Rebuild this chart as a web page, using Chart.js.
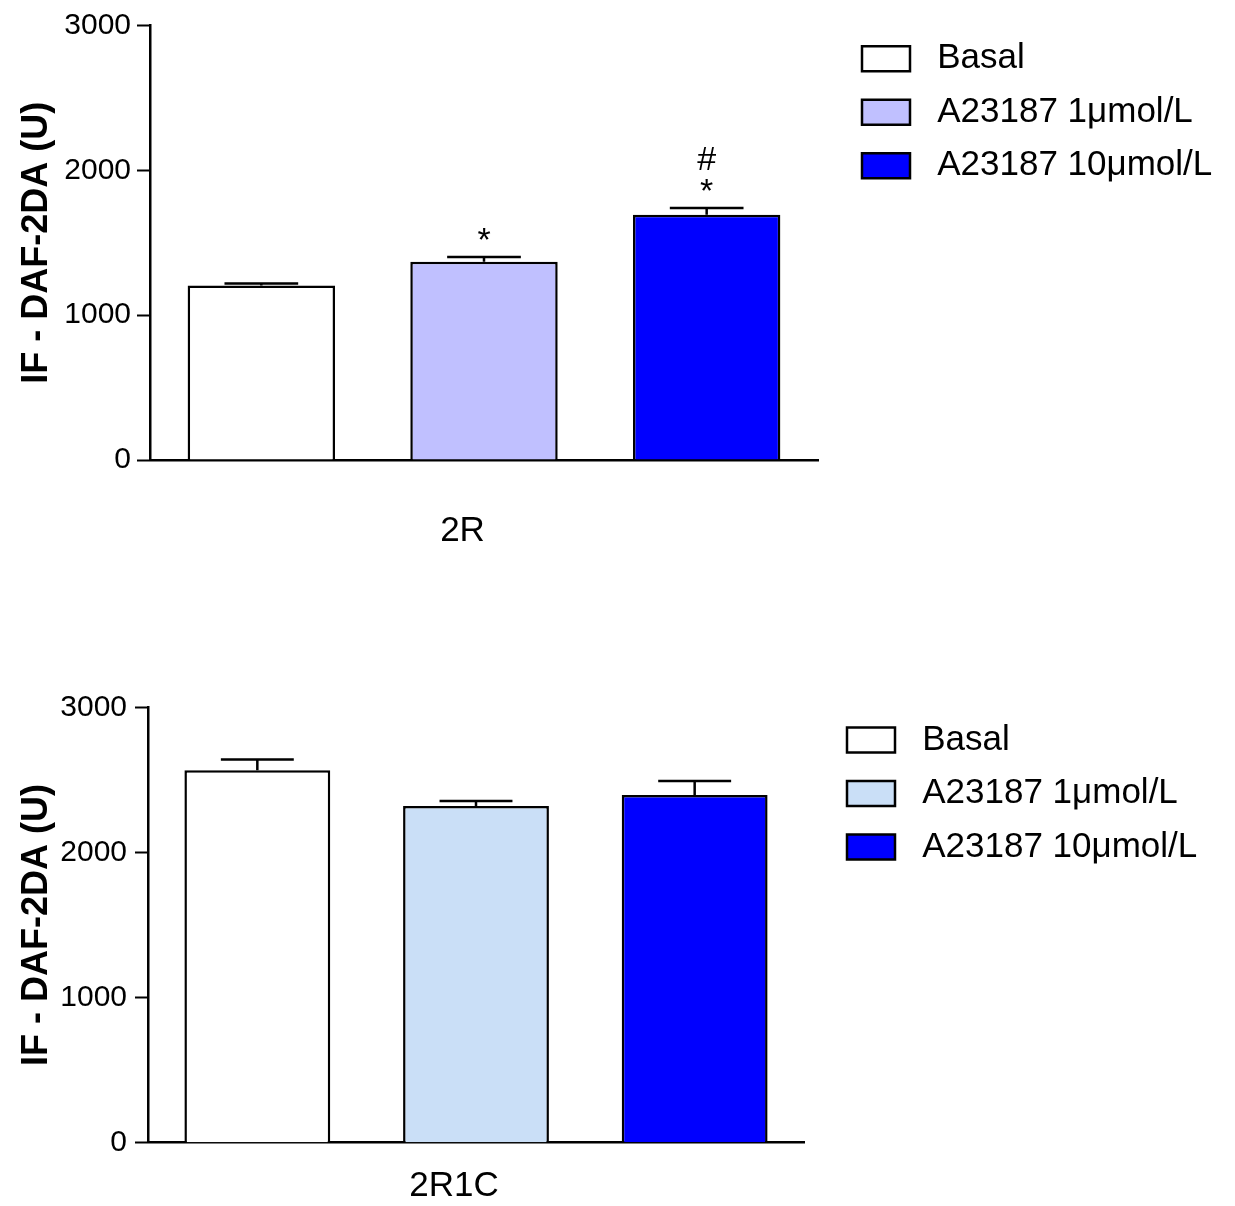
<!DOCTYPE html>
<html>
<head>
<meta charset="utf-8">
<script src="https://cdn.jsdelivr.net/npm/chart.js@4.4.1/dist/chart.umd.min.js"></script>
<style>
  body { margin: 0; background: #fff; }
  canvas { display: block; }
</style>
</head>
<body>
<canvas id="top" width="1235" height="603"></canvas>
<canvas id="bottom" width="1235" height="603"></canvas>
<script>
// groups (same in both panels)
const groups = ["Basal", "A23187 1μmol/L", "A23187 10μmol/L"];
const yTicks = [0, 1000, 2000, 3000];

// panel 2R
const topMean = [1206, 1370, 1694];
const topSem = [14, 32, 46];
const topMarks = [[], ["*"], ["*", "#"]];
const topColors = ["#ffffff", "#c0c0ff", "#0000ff"];

// panel 2R1C
const bottomMean = [2566, 2320, 2396];
const bottomSem = [74, 35, 97];
const bottomMarks = [[], [], []];
const bottomColors = ["#ffffff", "#cadff7", "#0000ff"];

Chart.defaults.color = "#000";

// error bars (mean + SEM) and significance marks above them
const errorBars = {
    id: "errorBars",
    afterDatasetsDraw(chart) {
        const ctx = chart.ctx;
        const y = chart.scales.y;
        const lift = { "*": 15, "#": 47 };
        ctx.save();
        chart.data.datasets.forEach((ds, i) => {
            const bar = chart.getDatasetMeta(i).data[0];
            const cap = y.getPixelForValue(ds.data[0] + ds.sem);
            const half = bar.width / 4;
            ctx.strokeStyle = "#000";
            ctx.lineWidth = 2.5;
            ctx.beginPath();
            ctx.moveTo(bar.x, bar.y);
            ctx.lineTo(bar.x, cap);
            ctx.moveTo(bar.x - half, cap);
            ctx.lineTo(bar.x + half, cap);
            ctx.stroke();
            ctx.fillStyle = "#000";
            ctx.font = "34px 'Liberation Sans'";
            ctx.textAlign = "center";
            ctx.textBaseline = "middle";
            ds.marks.forEach(m => ctx.fillText(m, bar.x, cap - lift[m]));
        });
        ctx.restore();
    }
};

// put the legend box where the original has it
const placeLegend = {
    id: "placeLegend",
    afterLayout(chart, args, opts) {
        const lg = chart.legend;
        lg.left = opts.x;
        lg.top = opts.y;
        lg.right = chart.width;
        lg.bottom = chart.height;
        lg.width = lg.right - lg.left;
        lg.height = lg.bottom - lg.top;
    }
};

function makeChart(id, label, means, sems, marks, colors, box) {
    return new Chart(document.getElementById(id), {
        type: "bar",
        data: {
            labels: [label],
            datasets: groups.map((g, i) => ({
                label: g,
                data: [means[i]],
                sem: sems[i],
                marks: marks[i],
                backgroundColor: colors[i],
                borderColor: "#000",
                borderWidth: 2.5,
                barPercentage: box.barPct,
                categoryPercentage: 1
            }))
        },
        options: {
            responsive: false,
            animation: false,
            layout: { padding: { top: box.top, right: box.right, left: 0, bottom: 0 } },
            plugins: {
                tooltip: { enabled: false },
                legend: {
                    position: "chartArea",
                    align: "start",
                    onClick: null,
                    labels: {
                        boxWidth: 48,
                        boxHeight: 25,
                        padding: 18.5,
                        color: "#000",
                        font: { family: "'Liberation Sans'", size: 35 },
                        generateLabels: c => Chart.defaults.plugins.legend.labels.generateLabels(c)
                            .map(it => Object.assign(it, { text: " " + it.text }))
                    }
                },
                placeLegend: { x: box.legendX, y: box.legendY }
            },
            scales: {
                x: {
                    grid: { display: false, drawTicks: false },
                    border: { color: "#000", width: 2.5 },
                    ticks: {
                        color: "#000",
                        padding: box.labelPad,
                        labelOffset: box.labelShift,
                        font: { family: "'Liberation Sans'", size: 35 }
                    },
                    afterFit: s => { s.height = box.xHeight; }
                },
                y: {
                    min: 0,
                    max: 3000,
                    afterBuildTicks: s => { s.ticks = yTicks.map(v => ({ value: v })); },
                    grid: { drawOnChartArea: false, tickLength: 13, tickColor: "#000", tickWidth: 2 },
                    border: { color: "#000", width: 2.5 },
                    ticks: {
                        color: "#000",
                        padding: box.tickPad,
                        font: { family: "'Liberation Sans'", size: 30 },
                        callback: v => String(v)
                    },
                    title: {
                        display: true,
                        text: "IF - DAF-2DA (U)",
                        color: "#000",
                        padding: { top: 15, bottom: 0 },
                        font: { family: "'Liberation Sans'", size: 36, weight: "bold" }
                    },
                    afterFit: s => { s.width = box.yWidth; }
                }
            }
        },
        plugins: [errorBars, placeLegend]
    });
}

makeChart("top", "2R", topMean, topSem, topMarks, topColors, {
    top: 25.7, right: 417, xHeight: 143, yWidth: 150, barPct: 0.662,
    labelPad: 50, labelShift: -21.5, tickPad: 6, legendX: 843.5, legendY: 22.8
});

makeChart("bottom", "2R1C", bottomMean, bottomSem, bottomMarks, bottomColors, {
    top: 104.3, right: 431, xHeight: 63.3, yWidth: 148, barPct: 0.667,
    labelPad: 22.3, labelShift: -22, tickPad: 8, legendX: 828.5, legendY: 101
});
</script>
</body>
</html>
